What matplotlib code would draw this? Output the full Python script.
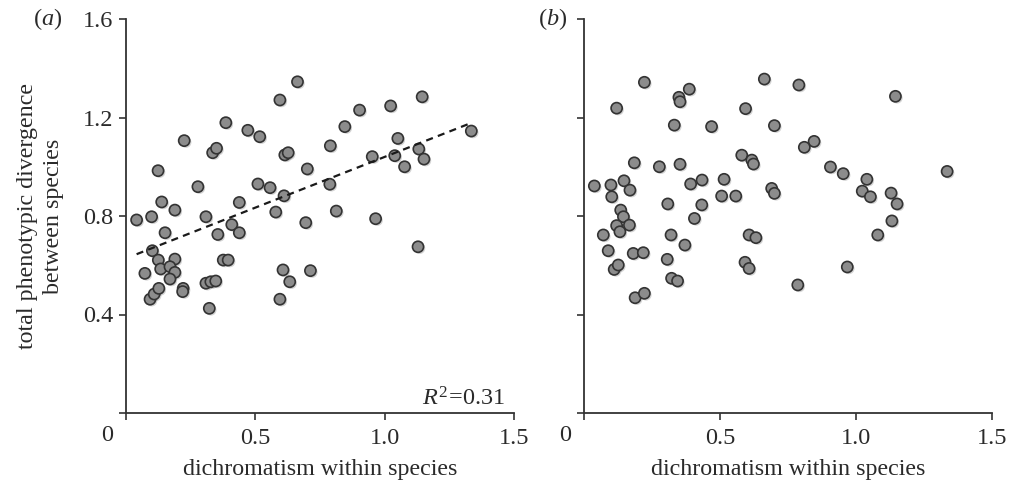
import matplotlib
matplotlib.use("Agg")
import matplotlib.pyplot as plt
import matplotlib.patheffects as pe
import numpy as np

# ---- data ----
a_x = [0.663, 0.595, 0.386, 0.225, 0.471, 0.517, 0.335, 0.350, 0.614, 0.627,
       0.124, 0.278, 0.510, 0.557, 0.611, 0.138, 0.189, 0.438, 0.041, 0.099,
       0.309, 0.579, 0.151, 0.355, 0.409, 0.438, 0.102, 0.125, 0.189, 0.073,
       0.134, 0.170, 0.189, 0.170, 0.093, 0.109, 0.127, 0.221, 0.219, 0.376,
       0.395, 0.309, 0.328, 0.347, 0.322, 0.607, 0.633, 0.595, 1.145, 1.023,
       0.903, 0.846, 1.335, 0.790, 1.051, 0.952, 1.039, 1.132, 1.152, 1.077,
       0.701, 0.788, 0.813, 0.695, 0.965, 1.129, 0.713]
a_y = [1.345, 1.271, 1.179, 1.106, 1.148, 1.122, 1.057, 1.075, 1.048, 1.057,
       0.984, 0.919, 0.930, 0.915, 0.882, 0.857, 0.824, 0.855, 0.784, 0.797,
       0.797, 0.816, 0.732, 0.725, 0.765, 0.732, 0.659, 0.621, 0.625, 0.567,
       0.585, 0.594, 0.571, 0.544, 0.462, 0.483, 0.506, 0.506, 0.493, 0.621,
       0.621, 0.527, 0.533, 0.536, 0.425, 0.581, 0.533, 0.462, 1.284, 1.247,
       1.230, 1.163, 1.145, 1.085, 1.115, 1.041, 1.045, 1.072, 1.031, 1.000,
       0.991, 0.929, 0.820, 0.773, 0.789, 0.675, 0.578]

b_x = [0.222, 0.387, 0.349, 0.353, 0.120, 0.663, 0.594, 0.332, 0.469, 0.700,
       0.580, 0.617, 0.623, 0.185, 0.277, 0.353, 0.038, 0.099, 0.147, 0.169,
       0.102, 0.392, 0.434, 0.515, 0.506, 0.558, 0.690, 0.700, 0.308, 0.433,
       0.406, 0.135, 0.145, 0.120, 0.167, 0.132, 0.071, 0.320, 0.371, 0.607,
       0.632, 0.089, 0.181, 0.218, 0.306, 0.111, 0.126, 0.322, 0.344, 0.188,
       0.222, 0.592, 0.607, 0.790, 1.145, 0.846, 0.810, 0.906, 0.953, 1.335,
       1.040, 1.023, 1.053, 1.129, 1.151, 1.132, 1.080, 0.968, 0.786]
b_y = [1.343, 1.315, 1.282, 1.264, 1.238, 1.356, 1.236, 1.169, 1.163, 1.167,
       1.047, 1.027, 1.011, 1.016, 1.000, 1.010, 0.922, 0.926, 0.943, 0.905,
       0.878, 0.930, 0.946, 0.949, 0.881, 0.881, 0.912, 0.892, 0.849, 0.845,
       0.790, 0.824, 0.797, 0.761, 0.763, 0.736, 0.723, 0.723, 0.682, 0.723,
       0.712, 0.659, 0.648, 0.651, 0.624, 0.583, 0.601, 0.547, 0.536, 0.468,
       0.486, 0.612, 0.587, 1.332, 1.286, 1.103, 1.079, 0.999, 0.972, 0.981,
       0.949, 0.901, 0.878, 0.893, 0.849, 0.780, 0.723, 0.593, 0.520]

fit_slope = 0.412
fit_intercept = 0.628
r2_label = "0.31"

x_ticks = [0, 0.5, 1.0, 1.5]
x_ticklabels = ["", "0.5", "1.0", "1.5"]
y_ticks = [0, 0.4, 0.8, 1.2, 1.6]
y_ticklabels = ["", "0.4", "0.8", "1.2", "1.6"]

plt.rcParams['font.family'] = ['Liberation Serif', 'DejaVu Serif']
plt.rcParams['mathtext.fontset'] = 'custom'
plt.rcParams['mathtext.rm'] = 'Liberation Serif'
plt.rcParams['mathtext.it'] = 'Liberation Serif:italic'

W, H = 1010, 484
fig = plt.figure(figsize=(W / 100, H / 100), dpi=100)

def px_axes(left, right, top, bottom):
    return fig.add_axes([left / W, 1 - bottom / H, (right - left) / W, (bottom - top) / H])

ax_a = px_axes(126, 514, 19, 413)
ax_b = px_axes(584, 992, 19, 413)

spine_col = '#333333'
text_col = '#2a2a2a'
fs_tick = 17.5
fs_label = 17.3

for ax, xs, ys, show_y in [(ax_a, a_x, a_y, True), (ax_b, b_x, b_y, False)]:
    ax.set_xlim(0, 1.5)
    ax.set_ylim(0, 1.6)
    for s in ['top', 'right']:
        ax.spines[s].set_visible(False)
    for s in ['left', 'bottom']:
        ax.spines[s].set_color(spine_col)
        ax.spines[s].set_linewidth(1.3)
        ax.spines[s].set_clip_on(False)
    ax.set_xticks(x_ticks)
    ax.set_xticklabels(x_ticklabels)
    ax.set_yticks(y_ticks)
    if show_y:
        ax.set_yticklabels(y_ticklabels)
    else:
        ax.set_yticklabels([""] * len(y_ticks))
    ax.tick_params(direction='out', length=5, width=1.2, color=spine_col,
                   labelsize=fs_tick, labelcolor=text_col)
    ax.tick_params(axis='x', pad=6)
    ax.tick_params(axis='y', pad=4)
    ax.set_xlabel("dichromatism within species", fontsize=fs_label, color=text_col, labelpad=7)
    sc = ax.scatter(xs, ys, s=64, facecolor='#8c8c8c', edgecolor='#333333',
                    linewidth=1.2, zorder=3, clip_on=False)
    sc.set_path_effects([pe.SimplePatchShadow(offset=(1.2, -1.2), alpha=0.25, shadow_rgbFace='#555555'),
                         pe.Normal()])
    ax.annotate("0", xy=(0, 0), xycoords='data', xytext=(-19, -12),
                textcoords='offset pixels', ha='center', va='top',
                fontsize=fs_tick, color=text_col)

# regression line in panel a
fx = np.array([min(a_x), max(a_x)])
ax_a.plot(fx, fit_intercept + fit_slope * fx, ls=(0, (3.2, 2.4)), color='#1a1a1a', lw=1.6, zorder=4)

ax_a.text(0.978, 0.006, r"$\mathit{R}^{2}\!=\!$" + r"$%s$" % r2_label, transform=ax_a.transAxes,
          ha='right', va='bottom', fontsize=fs_tick, color=text_col)

ax_a.set_ylabel("total phenotypic divergence\nbetween species", fontsize=fs_label,
                color=text_col, labelpad=14, linespacing=1.3)

fig.text(48 / W, 1 - 19 / H, "($a$)", ha='center', va='center', fontsize=fs_tick, color=text_col)
fig.text(553 / W, 1 - 19 / H, "($b$)", ha='center', va='center', fontsize=fs_tick, color=text_col)

fig.savefig("out.png", dpi=100)
